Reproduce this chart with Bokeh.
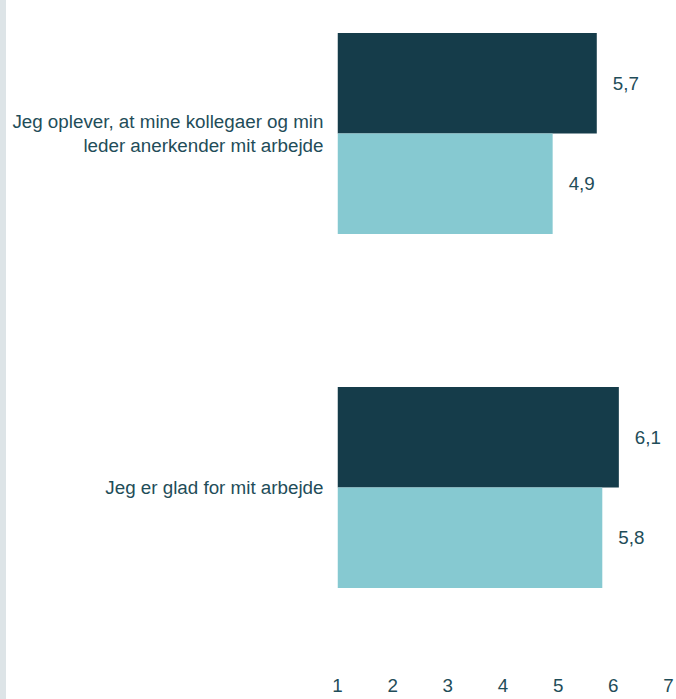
from bokeh.plotting import figure
from bokeh.models import Range1d, FixedTicker, ColumnDataSource
from bokeh.embed import file_html
from bokeh.resources import INLINE
from bokeh.core.properties import value

categories = [
    "Jeg oplever, at mine kollegaer og min\nleder anerkender mit arbejde",
    "Jeg er glad for mit arbejde",
]
series_dark = [5.7, 6.1]
series_light = [4.9, 5.8]
x_ticks = [1, 2, 3, 4, 5, 6, 7]

DARK = "#153c4a"
LIGHT = "#86c9d1"
TXT = "#1f4d59"
FONT = "Liberation Sans"
FS = "18.8px"

n = len(categories)
pos = [n - 1 - i for i in range(n)]
bh = 0.284

p = figure(width=676, height=699, output_backend="svg", toolbar_location=None,
           x_range=Range1d(1, 7), y_range=Range1d(-0.517, 1.3757),
           min_border_left=337, min_border_right=8, min_border_top=0, min_border_bottom=29)
p.styles = {"box-shadow": "inset 6px 0 0 #dde4e7"}
p.border_fill_color = None
p.outline_line_color = None
p.grid.visible = False
p.background_fill_color = "white"

dark_src = ColumnDataSource(dict(y=[v + bh / 2 for v in pos], right=series_dark,
                                 lab=[f"{v:.1f}".replace(".", ",") for v in series_dark]))
light_src = ColumnDataSource(dict(y=[v - bh / 2 for v in pos], right=series_light,
                                  lab=[f"{v:.1f}".replace(".", ",") for v in series_light]))

p.hbar(y="y", left=1, right="right", height=bh, source=dark_src, fill_color=DARK, line_color=None)
p.hbar(y="y", left=1, right="right", height=bh, source=light_src, fill_color=LIGHT, line_color=None)

for src in (dark_src, light_src):
    p.text(x="right", y="y", text="lab", source=src, x_offset=16,
           text_align="left", text_baseline="middle", text_color=TXT,
           text_font=value(FONT), text_font_size=FS)

xa = p.xaxis[0]
xa.ticker = FixedTicker(ticks=x_ticks)
xa.axis_line_color = None
xa.major_tick_line_color = None
xa.minor_tick_line_color = None
xa.major_tick_out = 0
xa.major_tick_in = 0
xa.major_label_standoff = 8
xa.major_label_text_font = FONT
xa.major_label_text_font_size = FS
xa.major_label_text_color = TXT

ya = p.yaxis[0]
ya.ticker = FixedTicker(ticks=pos)
ya.major_label_overrides = {pv: c for pv, c in zip(pos, categories)}
ya.axis_line_color = None
ya.major_tick_line_color = None
ya.minor_tick_line_color = None
ya.major_tick_out = 0
ya.major_tick_in = 0
ya.major_label_standoff = 14
ya.major_label_text_font = FONT
ya.major_label_text_font_size = FS
ya.major_label_text_line_height = 1.1
ya.major_label_text_color = TXT

open("out.html", "w").write(file_html(p, INLINE))
